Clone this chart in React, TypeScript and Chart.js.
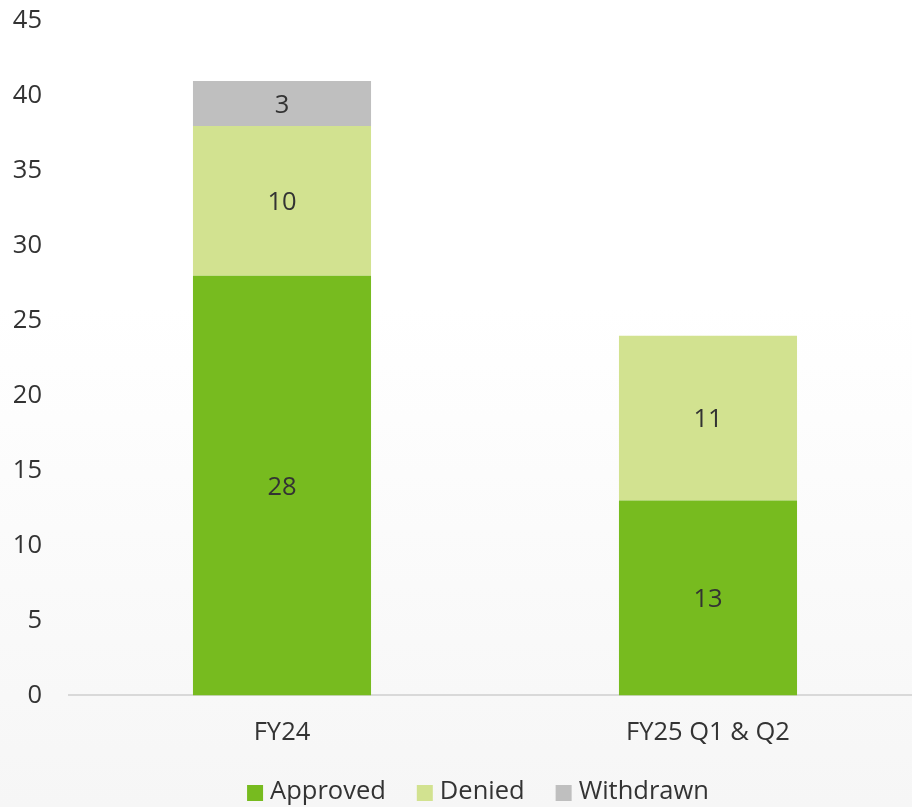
import React, { useEffect, useRef } from "react";
import { Chart, registerables } from "chart.js";

Chart.register(...registerables);

const categories = ["FY24", "FY25 Q1 & Q2"];
const approved = [28, 13];
const denied = [10, 11];
const withdrawn = [3, 0];
const yTicks = [0, 5, 10, 15, 20, 25, 30, 35, 40, 45];

const FONT = "'Open Sans', sans-serif";
const TEXT = "#333333";
const SIZE = 25.5;

const valueLabels = {
  id: "valueLabels",
  afterDatasetsDraw(chart: any) {
    const ctx = chart.ctx;
    ctx.save();
    ctx.font = `${SIZE}px ${FONT}`;
    ctx.fillStyle = TEXT;
    ctx.textAlign = "center";
    ctx.textBaseline = "middle";
    chart.data.datasets.forEach((ds: any, di: number) => {
      const meta = chart.getDatasetMeta(di);
      meta.data.forEach((el: any, i: number) => {
        const v = ds.data[i];
        if (!v) return;
        const props = el.getProps(["x", "y", "base"], true);
        ctx.fillText(String(v), props.x, (props.y + props.base) / 2 + 2);
      });
    });
    ctx.restore();
  },
};

const customLegend = {
  id: "customLegend",
  afterDraw(chart: any) {
    const ctx = chart.ctx;
    ctx.save();
    ctx.font = `${SIZE}px ${FONT}`;
    const box = 16;
    const gapText = 7;
    const gapItem = 31;
    const items = chart.data.datasets.map((ds: any) => ({
      label: ds.label,
      color: ds.backgroundColor,
      w: ctx.measureText(ds.label).width,
    }));
    const total =
      items.reduce((s: number, it: any) => s + box + gapText + it.w, 0) +
      gapItem * (items.length - 1);
    let x = 478 - total / 2;
    const y = 792;
    ctx.textBaseline = "middle";
    ctx.textAlign = "left";
    items.forEach((it: any) => {
      ctx.fillStyle = it.color;
      ctx.fillRect(x, y - box / 2 + 1, box, box);
      x += box + gapText;
      ctx.fillStyle = TEXT;
      ctx.fillText(it.label, x, y);
      x += it.w + gapItem;
    });
    ctx.restore();
  },
};

export default function App() {
  const ref = useRef<HTMLCanvasElement>(null);

  useEffect(() => {
    document.body.style.margin = "0";
    const chart = new Chart(ref.current as HTMLCanvasElement, {
      type: "bar",
      data: {
        labels: categories,
        datasets: [
          { label: "Approved", data: approved, backgroundColor: "#77BB1F" },
          { label: "Denied", data: denied, backgroundColor: "#D2E290" },
          { label: "Withdrawn", data: withdrawn, backgroundColor: "#BFBFBF" },
        ],
      },
      options: {
        animation: false,
        responsive: false,
        devicePixelRatio: 1,
        layout: { padding: { top: 21, left: 0, right: 35, bottom: 37 } },
        datasets: {
          bar: { categoryPercentage: 1, barPercentage: 0.418 },
        },
        plugins: {
          legend: { display: false },
          tooltip: { enabled: false },
        },
        scales: {
          x: {
            stacked: true,
            grid: { display: false, drawTicks: false },
            border: { display: true, color: "#D9D9D9", width: 2 },
            ticks: { color: TEXT, font: { family: FONT, size: SIZE }, padding: 22 },
          },
          y: {
            stacked: true,
            min: 0,
            max: 45,
            afterBuildTicks: (scale: any) => {
              scale.ticks = yTicks.map((v) => ({ value: v }));
            },
            afterFit: (scale: any) => {
              scale.width = 69;
              scale.paddingTop = 0;
            },
            grid: { display: false, drawTicks: false },
            border: { display: false },
            ticks: { color: TEXT, font: { family: FONT, size: SIZE }, padding: 27 },
          },
        },
      },
      plugins: [valueLabels, customLegend],
    });
    return () => chart.destroy();
  }, []);

  return (
    <div
      style={{
        width: 912,
        height: 807,
        overflow: "hidden",
        background: "linear-gradient(to bottom, #ffffff 0%, #ffffff 38%, #f6f6f6 100%)",
      }}
    >
      <canvas ref={ref} width={956} height={807} style={{ width: 956, height: 807, display: "block" }} />
    </div>
  );
}
